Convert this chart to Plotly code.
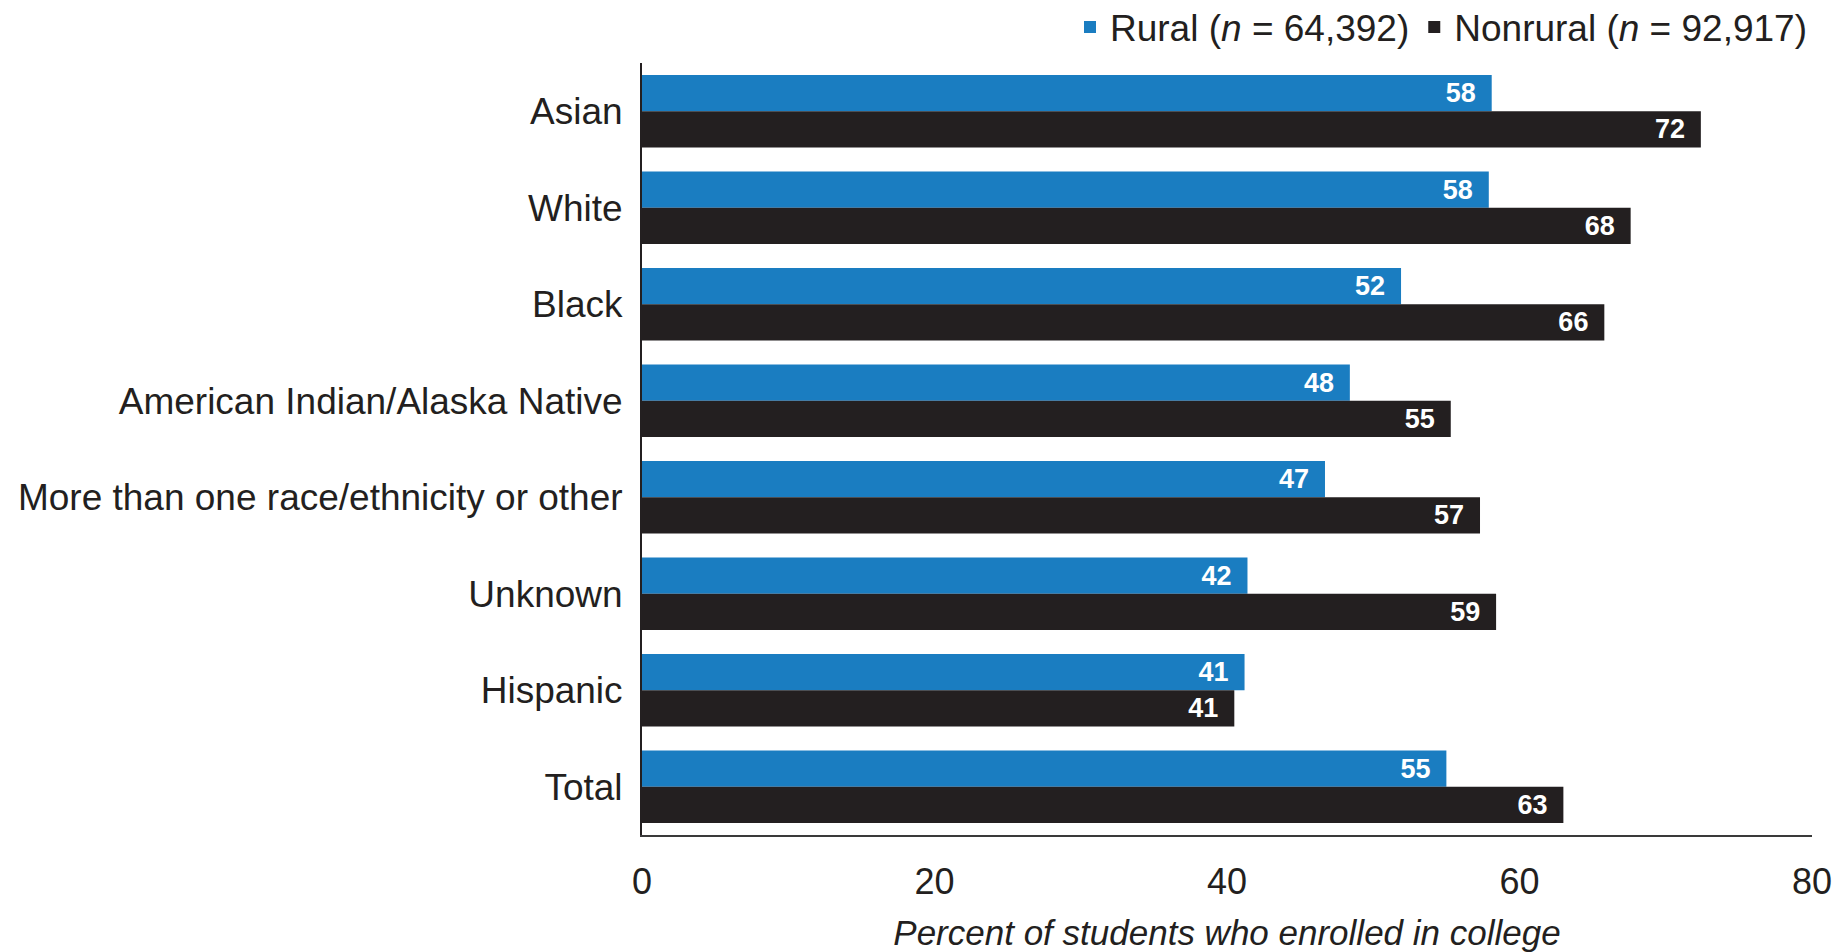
import plotly.graph_objects as go

categories = ["Asian", "White", "Black", "American Indian/Alaska Native",
              "More than one race/ethnicity or other", "Unknown", "Hispanic", "Total"]
rural_values = [58.1, 57.9, 51.9, 48.4, 46.7, 41.4, 41.2, 55.0]
nonrural_values = [72.4, 67.6, 65.8, 55.3, 57.3, 58.4, 40.5, 63.0]
rural_labels = ["58", "58", "52", "48", "47", "42", "41", "55"]
nonrural_labels = ["72", "68", "66", "55", "57", "59", "41", "63"]
x_ticks = [0, 20, 40, 60, 80]

BLUE = "#1a7dc1"
BLACK = "#231f20"
FONT = "Liberation Sans, Arial, sans-serif"
LABEL_FONT = "Liberation Sans Narrow, Liberation Sans, Arial, sans-serif"
TEMPLATE = "<b>%{text}</b>&nbsp;\u2009"

fig = go.Figure()
fig.add_trace(go.Bar(
    y=categories, x=rural_values, orientation="h", name="Rural (<i>n</i> = 64,392)",
    marker=dict(color=BLUE, line=dict(width=0)),
    text=rural_labels, texttemplate=TEMPLATE,
    textposition="inside", insidetextanchor="end", textangle=0,
    insidetextfont=dict(family=LABEL_FONT, size=27, color="white"),
    cliponaxis=False, hoverinfo="skip",
))
fig.add_trace(go.Bar(
    y=categories, x=nonrural_values, orientation="h", name="Nonrural (<i>n</i> = 92,917)",
    marker=dict(color=BLACK, line=dict(width=0)),
    text=nonrural_labels, texttemplate=TEMPLATE,
    textposition="inside", insidetextanchor="end", textangle=0,
    insidetextfont=dict(family=LABEL_FONT, size=27, color="white"),
    cliponaxis=False, hoverinfo="skip",
))

fig.update_layout(
    width=1837, height=952,
    margin=dict(l=642, r=25, t=63, b=117, autoexpand=False),
    paper_bgcolor="white", plot_bgcolor="white",
    barmode="group", bargap=0.25, bargroupgap=0,
    font=dict(family=FONT, size=36, color=BLACK),
    showlegend=True,
    legend=dict(orientation="h", x=1, xanchor="right", y=1.046, yanchor="middle",
                font=dict(family=FONT, size=37, color=BLACK),
                bgcolor="rgba(0,0,0,0)", borderwidth=0,
                traceorder="normal"),
)
fig.update_xaxes(
    range=[0, 80], tickvals=x_ticks, ticktext=[str(v) for v in x_ticks],
    showgrid=False, zeroline=False, showline=True, linecolor="#3a3a3a", linewidth=2,
    ticks="", ticklabelstandoff=14,
    tickfont=dict(family=FONT, size=36, color=BLACK),
    title=dict(text="<i>Percent of students who enrolled in college</i>",
               font=dict(family=FONT, size=35, color=BLACK), standoff=32),
    automargin=False,
)
fig.update_yaxes(
    categoryorder="array", categoryarray=categories, range=[7.5, -0.5],
    showgrid=False, zeroline=False, showline=True, linecolor=BLACK, linewidth=2,
    ticks="", ticklabelstandoff=10,
    tickfont=dict(family=FONT, size=37, color=BLACK),
    automargin=False,
)

fig.write_html("out.html")
